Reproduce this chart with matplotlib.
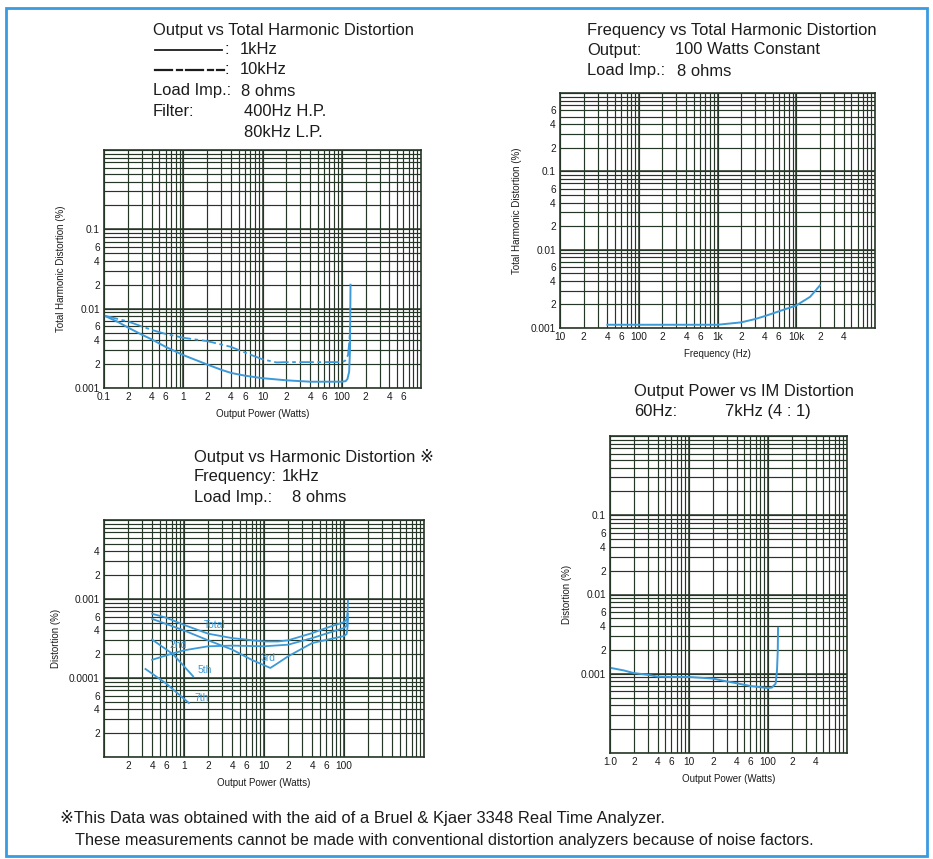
import numpy as np
import matplotlib
matplotlib.use('Agg')
import matplotlib.pyplot as plt
from matplotlib.ticker import LogLocator, FixedLocator, FixedFormatter
from matplotlib.lines import Line2D
from matplotlib.patches import Rectangle

# ---------------- data ----------------
# Panel 1: Output vs THD
p1_w_1k = [0.1, 0.15, 0.2, 0.3, 0.4, 0.6, 1, 2, 3, 4, 6, 10, 20, 40, 100, 112, 118, 124, 127, 128, 129]
p1_thd_1k = [0.0082, 0.0068, 0.0058, 0.0047, 0.0041, 0.0033, 0.0026, 0.00198, 0.0017, 0.00155, 0.00143,
             0.00133, 0.00125, 0.0012, 0.0012, 0.00122, 0.0013, 0.0016, 0.003, 0.008, 0.02]
p1_w_10k = [0.1, 0.2, 0.4, 0.6, 1, 2, 4, 6, 10, 15, 20, 50, 100, 110, 120, 125, 127]
p1_thd_10k = [0.0082, 0.0069, 0.0054, 0.0048, 0.0043, 0.0039, 0.0033, 0.0028, 0.0023, 0.0021, 0.00212,
              0.00212, 0.00212, 0.0022, 0.0026, 0.004, 0.006]
p1_xticks = [0.1, 0.2, 0.4, 0.6, 1, 2, 4, 6, 10, 20, 40, 60, 100, 200, 400, 600]
p1_xlabels = ['0.1', '2', '4', '6', '1', '2', '4', '6', '10', '2', '4', '6', '100', '2', '4', '6']
p1_yticks = [0.001, 0.002, 0.004, 0.006, 0.01, 0.02, 0.04, 0.06, 0.1]
p1_ylabels = ['0.001', '2', '4', '6', '0.01', '2', '4', '6', '0.1']

# Panel 2: Frequency vs THD
p2_freq = [40, 100, 200, 500, 1000, 2000, 3000, 4000, 6000, 10000, 15000, 20000]
p2_thd = [0.0011, 0.0011, 0.0011, 0.0011, 0.0011, 0.00118, 0.0013, 0.00142, 0.00163, 0.00194, 0.0025, 0.0035]
p2_xticks = [10, 20, 40, 60, 100, 200, 400, 600, 1e3, 2e3, 4e3, 6e3, 1e4, 2e4, 4e4]
p2_xlabels = ['10', '2', '4', '6', '100', '2', '4', '6', '1k', '2', '4', '6', '10k', '2', '4']
p2_yticks = [0.001, 0.002, 0.004, 0.006, 0.01, 0.02, 0.04, 0.06, 0.1, 0.2, 0.4, 0.6]
p2_ylabels = ['0.001', '2', '4', '6', '0.01', '2', '4', '6', '0.1', '2', '4', '6']

# Panel 3: Output vs Harmonic Distortion
p3_w_total = [0.4, 0.6, 1, 2, 4, 10, 15, 20, 40, 60, 100, 108, 111, 112]
p3_total = [0.00065, 0.00058, 0.00047, 0.000364, 0.00032, 0.00029, 0.00029, 0.0003, 0.00037, 0.00043,
            0.00051, 0.00055, 0.0007, 0.00095]
p3_w_3rd = [0.4, 1, 2, 4, 7, 12, 14, 20, 40, 100, 108, 111, 112]
p3_3rd = [0.00056, 0.0004, 0.0003, 0.000229, 0.00017, 0.000134, 0.000148, 0.000188, 0.000277, 0.00034,
          0.00036, 0.00045, 0.00058]
p3_w_2nd = [0.4, 0.7, 1, 2, 4, 10, 20, 40, 100, 108, 111, 112]
p3_2nd = [0.00017, 0.000203, 0.000224, 0.000252, 0.000257, 0.000252, 0.000264, 0.00032, 0.00043,
          0.00046, 0.00055, 0.00065]
p3_w_5th = [0.4, 0.73, 1.3]
p3_5th = [0.000306, 0.0002, 0.000105]
p3_w_7th = [0.33, 0.6, 1.15]
p3_7th = [0.00013, 0.000085, 0.0000483]
p3_labels = ['Total', '2nd', '3rd', '5th', '7th']
p3_label_x = [2.4, 0.84, 11.2, 1.8, 1.65]
p3_label_y = [0.00047, 0.000264, 0.000179, 0.000125, 0.0000558]
p3_xticks = [0.2, 0.4, 0.6, 1, 2, 4, 6, 10, 20, 40, 60, 100]
p3_xlabels = ['2', '4', '6', '1', '2', '4', '6', '10', '2', '4', '6', '100']
p3_yticks = [2e-5, 4e-5, 6e-5, 1e-4, 2e-4, 4e-4, 6e-4, 1e-3, 2e-3, 4e-3]
p3_ylabels = ['2', '4', '6', '0.0001', '2', '4', '6', '0.001', '2', '4']

# Panel 4: Output power vs IM distortion
p4_w = [1.0, 1.5, 2, 3, 4, 6, 10, 20, 30, 40, 60, 100, 112, 125, 130, 133, 134]
p4_im = [0.00119, 0.0011, 0.00102, 0.00097, 0.00092, 0.00091, 0.00091, 0.00087, 0.0008, 0.00076, 0.0007,
         0.00066, 0.00067, 0.00075, 0.0011, 0.002, 0.0038]
p4_xticks = [1, 2, 4, 6, 10, 20, 40, 60, 100, 200, 400]
p4_xlabels = ['1.0', '2', '4', '6', '10', '2', '4', '6', '100', '2', '4']
p4_yticks = [0.001, 0.002, 0.004, 0.006, 0.01, 0.02, 0.04, 0.06, 0.1]
p4_ylabels = ['0.001', '2', '4', '6', '0.01', '2', '4', '6', '0.1']

# ---------------- style ----------------
W, H = 933, 859
plt.rcParams['font.family'] = ['Liberation Sans', 'DejaVu Sans', 'Noto Sans CJK JP']
fig = plt.figure(figsize=(W / 100, H / 100), dpi=100)
fig.patch.set_facecolor('white')

CURVE = '#3c9ad8'
GRID = '#263626'
TXT = '#1c1c1c'
FS = 11.9


def ax_at(x0, y0, x1, y1):
    return fig.add_axes([x0 / W, 1 - y1 / H, (x1 - x0) / W, (y1 - y0) / H])


def setup(ax, xlim, ylim, xt, xl, yt, yl, xlabel, ylabel):
    ax.set_xscale('log')
    ax.set_yscale('log')
    ax.set_xlim(*xlim)
    ax.set_ylim(*ylim)
    ax.xaxis.set_major_locator(FixedLocator(xt))
    ax.xaxis.set_major_formatter(FixedFormatter(xl))
    ax.yaxis.set_major_locator(FixedLocator(yt))
    ax.yaxis.set_major_formatter(FixedFormatter(yl))
    for a in (ax.xaxis, ax.yaxis):
        a.set_minor_locator(LogLocator(base=10, subs=np.arange(1, 10), numticks=200))
        a.remove_overlapping_locs = False
        a.set_minor_formatter(plt.NullFormatter())
    ax.grid(which='minor', color=GRID, lw=0.85)
    ax.tick_params(which='both', length=0, labelsize=7.3, pad=3, colors=TXT)
    for s in ax.spines.values():
        s.set_color(GRID)
        s.set_linewidth(1.2)
    # slightly heavier decade lines
    for e in range(-6, 6):
        v = 10.0 ** e
        if xlim[0] < v < xlim[1]:
            ax.axvline(v, color=GRID, lw=1.1)
        if ylim[0] < v < ylim[1]:
            ax.axhline(v, color=GRID, lw=1.1)
    ax.set_xlabel(xlabel, fontsize=7, color=TXT, labelpad=5)
    ax.set_ylabel(ylabel, fontsize=7, color=TXT, labelpad=6)


# Panel 1
ax1 = ax_at(104, 150, 421, 388)
setup(ax1, (0.1, 1000), (0.001, 1), p1_xticks, p1_xlabels, p1_yticks, p1_ylabels,
      'Output Power (Watts)', 'Total Harmonic Distortion (%)')
ax1.plot(p1_w_10k, p1_thd_10k, color=CURVE, lw=1.3, ls=(0, (8, 2, 2, 2)))
ax1.plot(p1_w_1k, p1_thd_1k, color=CURVE, lw=1.4)

# Panel 2
ax2 = ax_at(560, 93, 875, 328)
setup(ax2, (10, 1e5), (0.001, 1), p2_xticks, p2_xlabels, p2_yticks, p2_ylabels,
      'Frequency (Hz)', 'Total Harmonic Distortion (%)')
ax2.plot(p2_freq, p2_thd, color=CURVE, lw=1.4)

# Panel 3
ax3 = ax_at(104, 520, 424, 757)
setup(ax3, (0.1, 1000), (1e-5, 1e-2), p3_xticks, p3_xlabels, p3_yticks, p3_ylabels,
      'Output Power (Watts)', 'Distortion (%)')
for xs, ys in [(p3_w_total, p3_total), (p3_w_3rd, p3_3rd), (p3_w_2nd, p3_2nd),
               (p3_w_5th, p3_5th), (p3_w_7th, p3_7th)]:
    ax3.plot(xs, ys, color=CURVE, lw=1.3)
for lab, lx, ly in zip(p3_labels, p3_label_x, p3_label_y):
    ax3.text(lx, ly, lab, color=CURVE, fontsize=7.5, ha='center', va='center')

# Panel 4
ax4 = ax_at(610, 436, 847, 753)
setup(ax4, (1, 1000), (1e-4, 1), p4_xticks, p4_xlabels, p4_yticks, p4_ylabels,
      'Output Power (Watts)', 'Distortion (%)')
ax4.plot(p4_w, p4_im, color=CURVE, lw=1.4)


# ---------------- texts ----------------
def t(x, y, s, fs=FS, **kw):
    fig.text(x / W, 1 - y / H, s, fontsize=fs, color=TXT, va='center', ha='left', **kw)


t(153, 30, 'Output vs Total Harmonic Distortion')
fig.add_artist(Line2D([155 / W, 222 / W], [1 - 50 / H, 1 - 50 / H], color=TXT, lw=1.3))
t(225, 50, ':')
t(240, 50, '1kHz')
for a, b in [(155, 172), (177, 182), (186, 203), (208, 213), (217, 224)]:
    fig.add_artist(Line2D([a / W, b / W], [1 - 70 / H, 1 - 70 / H], color=TXT, lw=1.6))
t(225, 70, ':')
t(240, 70, '10kHz')
t(153, 91, 'Load Imp.:')
t(241, 91, '8 ohms')
t(153, 111, 'Filter:')
t(244, 111, '400Hz H.P.')
t(244, 132, '80kHz L.P.')

t(587, 30, 'Frequency vs Total Harmonic Distortion')
t(587, 50, 'Output:')
t(675, 50, '100 Watts Constant')
t(587, 71, 'Load Imp.:')
t(677, 71, '8 ohms')

t(194, 457, 'Output vs Harmonic Distortion \u203b')
t(194, 477, 'Frequency:')
t(282, 477, '1kHz')
t(194, 497, 'Load Imp.:')
t(292, 497, '8 ohms')

t(634, 392, 'Output Power vs IM Distortion')
t(634, 411, '60Hz:')
t(725, 411, '7kHz (4 : 1)')

t(60, 818, '\u203bThis Data was obtained with the aid of a Bruel & Kjaer 3348 Real Time Analyzer.')
t(75, 841, 'These measurements cannot be made with conventional distortion analyzers because of noise factors.',
  fs=11.7)

# blue frame
fig.add_artist(Rectangle((6 / W, 3 / H), (927 - 6) / W, (851 - 3) / H, transform=fig.transFigure,
                         fill=False, edgecolor='#3a9be0', lw=2))

fig.savefig('out.png', dpi=100)
